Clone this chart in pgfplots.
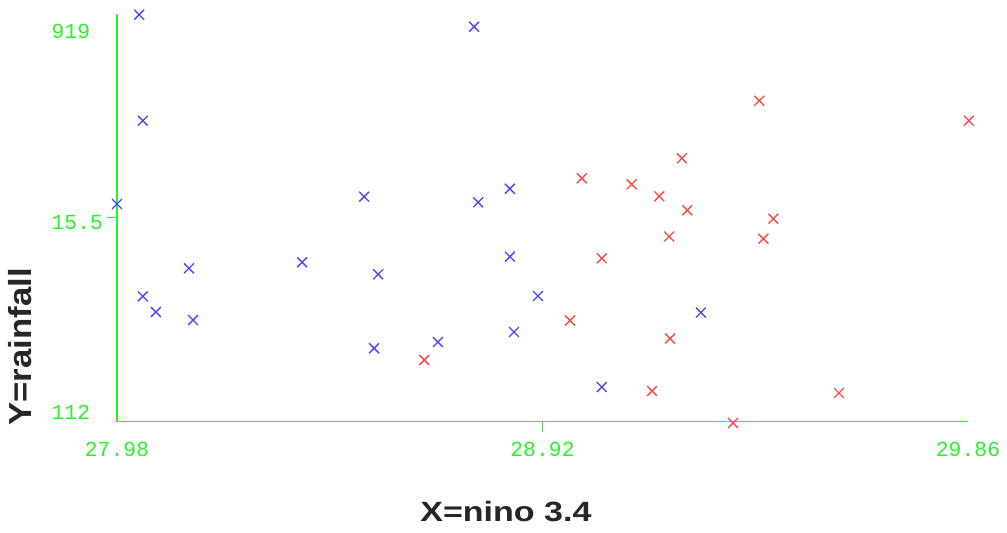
\documentclass[border=0pt]{standalone}
\usepackage{graphicx}
\usepackage{fontspec}
\setmainfont{Liberation Sans}
\newfontfamily\monofont{Liberation Mono}
\usepackage{pgfplots}
\pgfplotsset{compat=1.18}
\definecolor{axgreen}{RGB}{40,245,40}
\definecolor{ptblue}{RGB}{70,70,255}
\definecolor{ptred}{RGB}{255,70,70}
\begin{document}
\begin{tikzpicture}
\begin{axis}[
    scale only axis,
    width=851bp, height=407.5bp,
    xmin=27.98, xmax=29.86,
    ymin=112, ymax=919,
    clip=false,
    axis x line=bottom, axis y line=left,
    axis line style={-, draw=axgreen, line width=1.5bp},
    tick align=outside,
    major tick length=10.5bp,
    tick style={axgreen, line width=1.5bp},
    xtick={28.92}, xticklabels={28.92},
    extra x ticks={27.98,29.86}, extra x tick labels={27.98,29.86},
    extra x tick style={tick style={draw=none}},
    ytick={515.5}, yticklabels={15.5},
    extra y ticks={138,893}, extra y tick labels={112\phantom{0},919\phantom{0}},
    extra y tick style={tick style={draw=none}},
    tick label style={font=\monofont\fontsize{21.5}{22}\selectfont, text=axgreen},
    xticklabel style={yshift=-7bp},
    yticklabel style={yshift=-4.5bp},
    /pgf/number format/assume math mode=true,
    xlabel={\scalebox{1.22}[1]{\fontsize{28}{30}\selectfont\bfseries X=nino 3.4}},
    ylabel={\scalebox{1.09}[1]{\fontsize{32}{34}\selectfont\bfseries Y=rainfall}},
    label style={text=black!85},
    xlabel style={at={(axis description cs:0.457,-0.2466)}, anchor=base},
    ylabel style={at={(axis description cs:-0.0999,0.1828)}, anchor=base},
]
\coordinate (O) at (rel axis cs:0,0);
% El Nino years (blue)
\addplot[only marks, mark=x, mark size=7bp, ptblue, line width=1.35bp]
coordinates {
(28.029,917.6) (28.037,707.7) (27.980,542.7) (28.037,359.9) (28.066,328.9)
(28.139,415.4) (28.148,313.0) (28.389,427.3) (28.526,557.2) (28.557,403.5)
(28.548,257.0) (28.689,269.4) (28.769,893.8) (28.778,546.1) (28.848,573.0)
(28.848,438.4) (28.857,289.2) (28.910,360.5) (29.051,180.3) (29.270,327.7)
};
% La Nina years (red)
\addplot[only marks, mark=x, mark size=7bp, ptred, line width=1.35bp]
coordinates {
(28.659,233.8) (28.981,312.0) (29.007,593.6) (29.051,435.2) (29.117,581.7)
(29.162,172.4) (29.178,558.0) (29.200,478.4) (29.202,276.4) (29.228,633.2)
(29.240,530.3) (29.341,109.0) (29.399,747.3) (29.408,474.0) (29.430,513.6)
(29.575,168.4) (29.862,707.7)
};
\end{axis}
\pgfresetboundingbox
\path ([xshift=-117bp,yshift=-111.5bp]O) rectangle ([xshift=890bp,yshift=421.5bp]O);
\end{tikzpicture}
\end{document}
